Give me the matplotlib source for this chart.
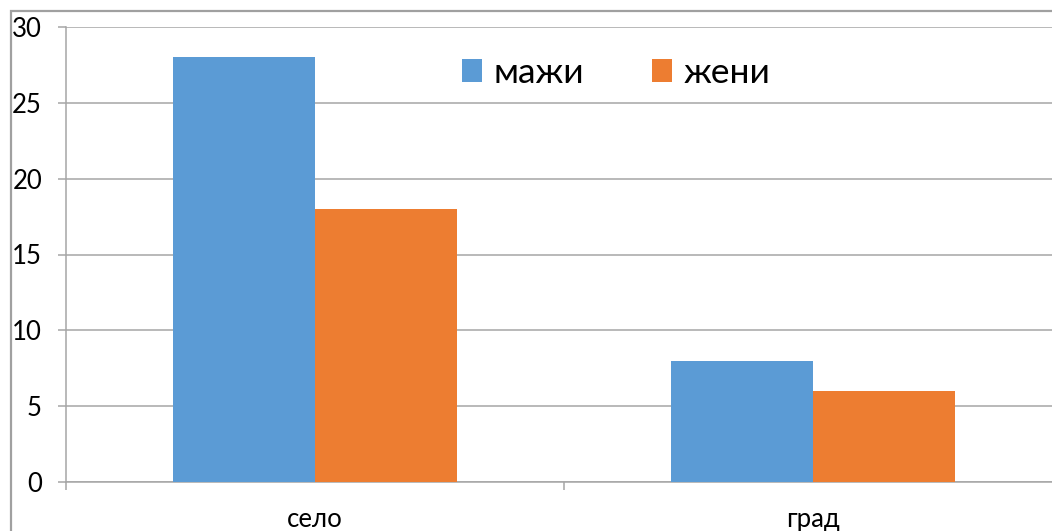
import matplotlib
matplotlib.use("Agg")
import matplotlib.pyplot as plt
from matplotlib.patches import Rectangle, Patch
import numpy as np

categories = ["село", "град"]
series_names = ["мажи", "жени"]
men = [28, 8]
women = [18, 6]
y_ticks = [0, 5, 10, 15, 20, 25, 30]

blue = "#5B9BD5"
orange = "#ED7D31"
grid_gray = "#A6A6A6"

plt.rcParams["font.family"] = ["Lato", "DejaVu Sans"]

W, H = 1052, 531
fig = plt.figure(figsize=(W / 100, H / 100), dpi=100)

# outer chart frame (extends past the right and bottom edges)
fig.patches.append(Rectangle((11 / W, -0.1), 1.2, 1 - 11 / H + 0.1,
                             transform=fig.transFigure, fill=False,
                             edgecolor="#A0A0A0", linewidth=1.6, zorder=0))

ax = fig.add_axes([66 / W, (H - 482) / H, 996 / W, 455 / H])
ax.set_facecolor("none")

x = np.arange(len(categories)) + 0.5
bw = 142 / 498
ax.bar(x - bw / 2, men, width=bw, color=blue, zorder=3)
ax.bar(x + bw / 2, women, width=bw, color=orange, zorder=3)

ax.set_xlim(0, len(categories))
ax.set_ylim(0, 30)
ax.set_yticks(y_ticks)
ax.yaxis.grid(True, color=grid_gray, linewidth=1.1, zorder=0)
ax.set_axisbelow(True)

# category boundary ticks on the x axis, labels centred in each band
ax.set_xticks(np.arange(len(categories) + 1))
ax.set_xticklabels([])
ax.set_xticks(x, minor=True)
ax.set_xticklabels(categories, minor=True)
ax.tick_params(axis="x", which="minor", length=0, pad=18, labelsize=18.5)
ax.tick_params(axis="x", which="major", length=8 * 0.72, width=1.1, color=grid_gray)
ax.tick_params(axis="y", length=8 * 0.72, width=1.1, color=grid_gray, pad=11.5, labelsize=18.5)

for s in ["top", "right"]:
    ax.spines[s].set_visible(False)
for s in ["left", "bottom"]:
    ax.spines[s].set_color(grid_gray)
    ax.spines[s].set_linewidth(1.1)

handles = [Patch(facecolor=blue), Patch(facecolor=orange)]
fig.legend(handles, series_names, loc="center",
           bbox_to_anchor=(616 / W, 1 - 73 / H), ncol=2, frameon=False,
           fontsize=25.5, handlelength=0.58, handleheight=0.58,
           handletextpad=0.32, columnspacing=1.9)

fig.savefig("out.png", dpi=100)
